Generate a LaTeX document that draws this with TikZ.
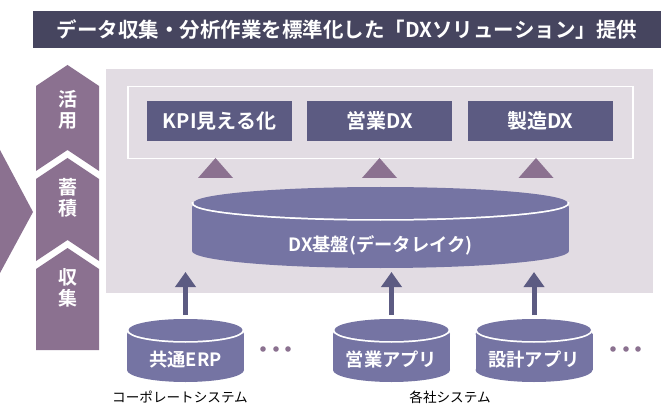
\documentclass[tikz,border=0pt]{standalone}
\usepackage{fontspec}
\setmainfont{Noto Sans CJK JP}[BoldFont={Noto Sans CJK JP Bold}]
\usepackage{xcolor}
\usetikzlibrary{arrows.meta, positioning, calc}

\definecolor{barclr}{HTML}{46455F}
\definecolor{mauve}{HTML}{8B7190}
\definecolor{panelclr}{HTML}{E2DCE3}
\definecolor{boxclr}{HTML}{5C5B82}
\definecolor{cylclr}{HTML}{7574A3}

% database cylinder: name, cx, lid y, rx, ry, bottom y, label y, label
\newcommand{\dbcyl}[8]{%
  \fill[cylclr] ({#2-#4-1.5},{#3+4}) rectangle ({#2+#4+1.5},#6);
  \fill[cylclr] (#2,#6) ellipse[x radius=#4+1.5, y radius=#5+1];
  \fill[cylclr] (#2,{#3+4}) ellipse[x radius=#4+1.5, y radius=#5];
  \begin{scope}
    \clip ({#2-#4-6},#3) rectangle ({#2+#4+6},{#3+#5+6});
    \draw[white, line width=3.5pt] (#2,#3) ellipse[x radius=#4, y radius=#5];
  \end{scope}
  \fill[cylclr] (#2,#3) ellipse[x radius=#4, y radius=#5];
  \coordinate (#1-top) at (#2,{#3-#5-4});
  \node[cyltext] (#1) at (#2,#7) {#8};
}

\begin{document}
\begin{tikzpicture}[
    x=1pt, y=-1pt,
    titlebar/.style={fill=barclr, text=white, inner sep=0pt, minimum width=628pt, minimum height=37pt, font=\bfseries\fontsize{20.5}{20.5}\selectfont},
    funcbox/.style={fill=boxclr, text=white, inner sep=0pt, minimum width=145pt, minimum height=40pt, font=\bfseries\fontsize{20}{20}\selectfont},
    cyltext/.style={text=white, inner sep=0pt, font=\bfseries\fontsize{18.3}{18.3}\selectfont},
    steplabel/.style={text=white, align=center, inner sep=0pt, font=\bfseries\fontsize{19}{21}\selectfont},
    syslabel/.style={text=black, inner sep=0pt, font=\fontsize{13.6}{13.6}\selectfont},
    uparrow/.style={draw=boxclr, line width=5pt, -{Triangle[width=20pt, length=15pt]}},
]
\useasboundingbox (0,0) rectangle (661,406);

% Title
\node[titlebar] (title) at (347,29.5) {データ収集・分析作業を標準化した「DXソリューション」提供};

% Left arrows
\fill[mauve] (0,150) -- (33,212) -- (0,273) -- cycle;
\fill[mauve] (36,86) -- (67.5,65) -- (99,86) -- (99,171) -- (67.5,150) -- (36,171) -- cycle;
\fill[mauve] (36,179) -- (67.5,158) -- (99,179) -- (99,261) -- (67.5,240) -- (36,261) -- cycle;
\fill[mauve] (36,269) -- (67.5,248) -- (99,269) -- (99,350) -- (36,350) -- cycle;
\node[steplabel] (use) at (67.5,110) {活\\用};
\node[steplabel] (store) at (67.5,198) {蓄\\積};
\node[steplabel] (collect) at (67.5,288) {収\\集};

% Panel
\node[fill=panelclr, inner sep=0pt, minimum width=547pt, minimum height=224pt, anchor=north west] (panel) at (106,69) {};
\node[draw=white, line width=1.5pt, inner sep=0pt, minimum width=505pt, minimum height=72pt, anchor=north west] (apps) at (127,86) {};

% Applications
\node[funcbox] (kpi) at (219.5,121) {KPI見える化};
\node[funcbox, right=15pt of kpi] (salesdx) {営業DX};
\node[funcbox, right=15pt of salesdx] (mfgdx) {製造DX};

% Triangles
\foreach \tx in {215.5,379.5,536}
  \fill[mauve] (\tx-17.5,178) -- (\tx,158) -- (\tx+17.5,178) -- cycle;

% Data lake
\dbcyl{lake}{380.5}{203}{187}{16}{251}{245}{DX基盤(データレイク)}
\coordinate (lakefoot) at (380,272);

% Source systems
\dbcyl{erp}{185.5}{330}{57}{11}{370}{360}{共通ERP}
\dbcyl{salesapp}{391.5}{330}{57}{11}{370}{360}{営業アプリ}
\dbcyl{designapp}{534}{330}{57}{11}{370}{360}{設計アプリ}

% Arrows
\draw[uparrow] (erp-top) -- (erp-top |- lakefoot);
\draw[uparrow] (salesapp-top) -- (salesapp-top |- lakefoot);
\draw[uparrow] (designapp-top) -- (designapp-top |- lakefoot);

% Dots
\foreach \dx in {263,276,288,613,626,638}
  \fill[mauve] (\dx,349) circle[radius=2.8];

% Labels
\node[syslabel] (corp) at (180,397) {コーポレートシステム};
\node[syslabel] (group) at (450,397) {各社システム};

\end{tikzpicture}
\end{document}
